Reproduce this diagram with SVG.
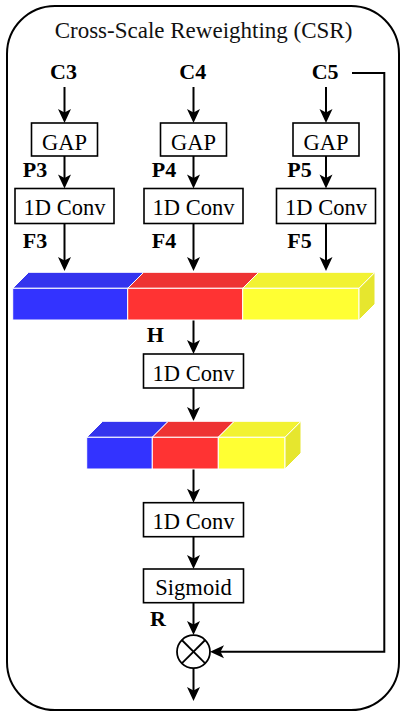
<svg xmlns="http://www.w3.org/2000/svg" width="400" height="711" viewBox="0 0 400 711">
<style>
.box{fill:#fff;stroke:#000;stroke-width:1.6}
.t{font-family:'Liberation Serif','Times New Roman',Times,serif;font-size:22.5px;fill:#000;text-anchor:middle}
.lb{font-family:'Liberation Serif','Times New Roman',Times,serif;font-size:22px;font-weight:bold;fill:#000}
.c{fill:none;stroke:#000;stroke-width:2}
.f{stroke:#fff;stroke-width:1}
</style>
<defs>
<marker id="ah" markerUnits="userSpaceOnUse" markerWidth="14" markerHeight="13" refX="8" refY="6.5" orient="auto" overflow="visible">
<path d="M0,0 L14,6.5 L0,13 L3.5,6.5 Z" fill="#000"/>
</marker>
</defs>
<g id="frame">
<rect x="7" y="6" width="392" height="704" rx="48" ry="48" fill="#fff" stroke="#000" stroke-width="2"/>
<text x="203.5" y="38" font-family="'Liberation Serif','Times New Roman',Times,serif" font-size="23" fill="#111" text-anchor="middle">Cross-Scale Reweighting (CSR)</text>
</g>
<g id="connectors">
<line class="c" x1="64.5" y1="87" x2="64.5" y2="117" marker-end="url(#ah)"/>
<line class="c" x1="193.5" y1="87" x2="193.5" y2="117" marker-end="url(#ah)"/>
<line class="c" x1="326" y1="87" x2="326" y2="117" marker-end="url(#ah)"/>
<line class="c" x1="64.5" y1="156" x2="64.5" y2="182.5" marker-end="url(#ah)"/>
<line class="c" x1="193.5" y1="156" x2="193.5" y2="182.5" marker-end="url(#ah)"/>
<line class="c" x1="326" y1="156" x2="326" y2="182.5" marker-end="url(#ah)"/>
<line class="c" x1="64.5" y1="223.5" x2="64.5" y2="265" marker-end="url(#ah)"/>
<line class="c" x1="193.5" y1="223.5" x2="193.5" y2="265" marker-end="url(#ah)"/>
<line class="c" x1="326" y1="223.5" x2="326" y2="265" marker-end="url(#ah)"/>
<line class="c" x1="193.5" y1="320" x2="193.5" y2="348" marker-end="url(#ah)"/>
<line class="c" x1="193.5" y1="388" x2="193.5" y2="415" marker-end="url(#ah)"/>
<line class="c" x1="193.5" y1="469" x2="193.5" y2="496.7" marker-end="url(#ah)"/>
<line class="c" x1="193.5" y1="536.7" x2="193.5" y2="563" marker-end="url(#ah)"/>
<line class="c" x1="193.5" y1="602.7" x2="193.5" y2="629" marker-end="url(#ah)"/>
<line class="c" x1="193.5" y1="668.2" x2="193.5" y2="695" marker-end="url(#ah)"/>
<polyline class="c" points="352,73 384.3,73 384.3,651.7 216,651.7" marker-end="url(#ah)"/>
</g>
<g id="labels">
<text class="lb" x="50" y="79">C3</text>
<text class="lb" x="179.3" y="79">C4</text>
<text class="lb" x="311.7" y="79">C5</text>
<text class="lb" x="22.7" y="177">P3</text>
<text class="lb" x="151.7" y="177">P4</text>
<text class="lb" x="287.3" y="177">P5</text>
<text class="lb" x="22.7" y="248">F3</text>
<text class="lb" x="151.7" y="248">F4</text>
<text class="lb" x="287.3" y="248">F5</text>
<text class="lb" x="146.7" y="341.7">H</text>
<text class="lb" x="150" y="626">R</text>
</g>
<g id="gap3"><rect class="box" x="31.5" y="123" width="66" height="33"/><text class="t" x="64.5" y="150">GAP</text></g>
<g id="gap4"><rect class="box" x="160.5" y="123" width="66" height="33"/><text class="t" x="193.5" y="150">GAP</text></g>
<g id="gap5"><rect class="box" x="293" y="123" width="66" height="33"/><text class="t" x="326" y="150">GAP</text></g>
<g id="conv3"><rect class="box" x="15" y="188.5" width="99" height="35"/><text class="t" x="64.5" y="215">1D Conv</text></g>
<g id="conv4"><rect class="box" x="144" y="188.5" width="99" height="35"/><text class="t" x="193.5" y="215">1D Conv</text></g>
<g id="conv5"><rect class="box" x="276.5" y="188.5" width="99" height="35"/><text class="t" x="326" y="215">1D Conv</text></g>
<g id="barH">
<polygon class="f" fill="#3434EE" points="12.7,288.3 28.7,272.3 143.7,272.3 127.7,288.3"/>
<rect class="f" fill="#3333FF" x="12.7" y="288.3" width="115" height="31.7"/>
<polygon class="f" fill="#EE3333" points="127.7,288.3 143.7,272.3 258.7,272.3 242.7,288.3"/>
<rect class="f" fill="#FF3333" x="127.7" y="288.3" width="115" height="31.7"/>
<polygon class="f" fill="#F2F232" points="242.7,288.3 258.7,272.3 375,272.3 359,288.3"/>
<rect class="f" fill="#FFFF33" x="242.7" y="288.3" width="116.3" height="31.7"/>
<polygon class="f" fill="#E6E62E" points="359,288.3 375,272.3 375,304 359,320"/>
</g>
<g id="conv6"><rect class="box" x="143.5" y="354" width="100" height="34"/><text class="t" x="193.5" y="380.5">1D Conv</text></g>
<g id="barS">
<polygon class="f" fill="#3434EE" points="86.7,437.3 102.7,421.3 168.3,421.3 152.3,437.3"/>
<rect class="f" fill="#3333FF" x="86.7" y="437.3" width="65.6" height="31.7"/>
<polygon class="f" fill="#EE3333" points="152.3,437.3 168.3,421.3 234.3,421.3 218.3,437.3"/>
<rect class="f" fill="#FF3333" x="152.3" y="437.3" width="66" height="31.7"/>
<polygon class="f" fill="#F2F232" points="218.3,437.3 234.3,421.3 301,421.3 285,437.3"/>
<rect class="f" fill="#FFFF33" x="218.3" y="437.3" width="66.7" height="31.7"/>
<polygon class="f" fill="#E6E62E" points="285,437.3 301,421.3 301,453 285,469"/>
</g>
<g id="conv7"><rect class="box" x="143.5" y="502.7" width="100" height="34"/><text class="t" x="193.5" y="528.7">1D Conv</text></g>
<g id="sigmoid"><rect class="box" x="143.5" y="569" width="100" height="33.7"/><text class="t" x="193.5" y="594.5">Sigmoid</text></g>
<g id="mult">
<circle cx="193.5" cy="651.7" r="16.5" fill="#fff" stroke="#000" stroke-width="1.8"/>
<line x1="181.8" y1="640" x2="205.2" y2="663.4" stroke="#000" stroke-width="1.8"/>
<line x1="205.2" y1="640" x2="181.8" y2="663.4" stroke="#000" stroke-width="1.8"/>
</g>
</svg>
